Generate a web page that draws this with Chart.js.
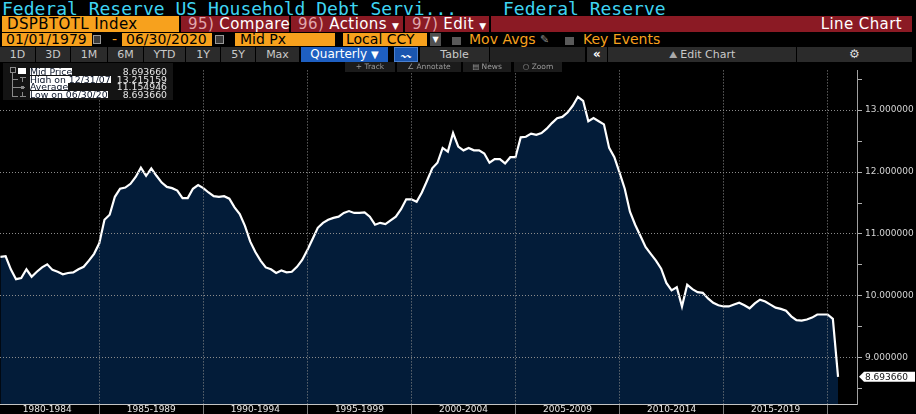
<!DOCTYPE html>
<html>
<head>
<meta charset="utf-8">
<script src="https://cdn.jsdelivr.net/npm/chart.js@4.4.1/dist/chart.umd.min.js"></script>
<style>
body{margin:0;background:#000;width:916px;height:414px;overflow:hidden;position:relative;font-family:'DejaVu Sans',sans-serif}
.a{position:absolute;white-space:pre;box-sizing:border-box}
.title{top:-1.5px;font-family:'DejaVu Sans Mono',monospace;font-size:18px;line-height:20px;color:#3fd4f2}
.r2{top:16px;height:16px;line-height:16px;font-size:15px;letter-spacing:.4px}
.org{background:#f7a11d;color:#000}
.red{background:#8b1a24;color:#fff}
.red i{font-style:normal;color:#e0a7ad}
.r3{top:33px;height:13px;line-height:13px;font-size:14px}
.ico{background:#3a3a3a;border:1px solid #9a9a9a}
.chk{top:37px;width:9px;height:8px;background:#5a5a5a}
.btn{top:47px;height:15px;line-height:15px;background:#2b2b2b;color:#c9c9c9;font-size:11px;text-align:center}
.tb{top:62px;height:10px;line-height:10px;background:#1b1b1b;color:#9a9a9a;font-size:7.5px;text-align:center;z-index:2}
.lg{font-size:9.3px;line-height:8px;height:8px;z-index:2}
.hl{display:inline-block;background:#fff;color:#0a1428;height:7px;line-height:8px}
.ln{position:absolute;background:#8a8a8a;z-index:2}
</style>
</head>
<body>
<!-- title row -->
<div class="a title" style="left:2px">Federal Reserve US Household Debt Servi...</div>
<div class="a title" style="left:503px">Federal Reserve</div>

<!-- security / actions row -->
<div class="a r2 org" style="left:2px;width:177px;padding-left:5px">DSPBTOTL Index</div>
<div class="a r2 red" style="left:181px;width:108px;padding-left:7px"><i>95)</i> Compare</div>
<div class="a r2 red" style="left:291px;width:112px;padding-left:7px"><i>96)</i> Actions <span style="font-size:9px">▼</span></div>
<div class="a r2 red" style="left:405px;width:84px;padding-left:7px"><i>97)</i> Edit <span style="font-size:9px">▼</span></div>
<div class="a r2 red" style="left:491px;width:421px;text-align:right;padding-right:10px">Line Chart</div>

<!-- date / settings row -->
<div class="a r3 org" style="left:2px;width:90px;padding-left:4px">01/01/1979</div>
<div class="a ico" style="left:93px;top:35px;width:8px;height:9px"></div>
<div class="a r3" style="left:112px;color:#f7a11d">-</div>
<div class="a r3 org" style="left:122px;width:90px;padding-left:4px">06/30/2020</div>
<div class="a ico" style="left:215px;top:35px;width:9px;height:9px"></div>
<div class="a r3 org" style="left:235px;width:100px;padding-left:5px">Mid Px</div>
<div class="a r3 org" style="left:343px;width:84px;padding-left:3px">Local CCY</div>
<div class="a r3" style="left:430px;width:11px;background:#505050;color:#fff;font-size:8px;text-align:center">▼</div>
<div class="a chk" style="left:452px"></div>
<div class="a r3" style="left:469px;color:#f7a11d">Mov Avgs</div>
<div class="a r3" style="left:540px;color:#8a8a8a;font-size:11px">✎</div>
<div class="a chk" style="left:565px"></div>
<div class="a r3" style="left:583px;color:#f7a11d">Key Events</div>

<!-- period buttons row -->
<div class="a btn" style="left:0;width:35px">1D</div>
<div class="a btn" style="left:36px;width:34px">3D</div>
<div class="a btn" style="left:71px;width:36px">1M</div>
<div class="a btn" style="left:108px;width:35px">6M</div>
<div class="a btn" style="left:144px;width:41px">YTD</div>
<div class="a btn" style="left:186px;width:34px">1Y</div>
<div class="a btn" style="left:221px;width:34px">5Y</div>
<div class="a btn" style="left:256px;width:43px">Max</div>
<div class="a btn" style="left:301px;width:87px;background:#1e5fc1;color:#fff;font-size:12px">Quarterly <span style="font-size:10px">▼</span></div>
<div class="a btn" style="left:394px;width:24px;background:#1a56b0;border:1px solid #4a80d0;color:#fff;font-size:10px">〰</div>
<div class="a btn" style="left:420px;width:69px">Table</div>
<div class="a btn" style="left:490px;width:95px;background:#222"></div>
<div class="a btn" style="left:587px;width:20px;color:#fff;font-weight:bold;font-size:12px">«</div>
<div class="a btn" style="left:608px;width:188px"><span style="color:#aaa;font-size:10px">⛰</span> Edit Chart</div>
<div class="a btn" style="left:797px;width:115px;color:#ddd;font-size:12px">⚙</div>

<canvas id="c" width="916" height="352" style="position:absolute;left:0;top:62px"></canvas>

<!-- chart toolbar -->
<div class="a tb" style="left:345px;width:50px">+ Track</div>
<div class="a tb" style="left:397px;width:64px">∠ Annotate</div>
<div class="a tb" style="left:463px;width:48px">▤ News</div>
<div class="a tb" style="left:514px;width:48px">○ Zoom</div>

<!-- legend -->
<div class="a" style="left:3px;top:63px;width:170px;height:37px;background:#141414;z-index:1"></div>
<div class="a" style="left:10px;top:67px;width:6px;height:6px;border:1px solid #8a8a8a;z-index:2"></div>
<div class="a" style="left:18px;top:68px;width:8px;height:6px;background:#fff;z-index:2"></div>
<div class="ln" style="left:12px;top:73px;width:1px;height:24px"></div>
<div class="ln" style="left:12px;top:79px;width:6px;height:1px"></div>
<div class="ln" style="left:20px;top:77px;width:6px;height:1px"></div>
<div class="ln" style="left:22px;top:77px;width:1px;height:5px"></div>
<div class="ln" style="left:12px;top:87px;width:13px;height:1px"></div>
<div class="ln" style="left:21px;top:86px;width:3px;height:3px"></div>
<div class="ln" style="left:12px;top:96px;width:6px;height:1px"></div>
<div class="ln" style="left:20px;top:96px;width:6px;height:1px"></div>
<div class="ln" style="left:22px;top:92px;width:1px;height:5px"></div>
<div class="a lg" style="left:30px;top:68px"><span class="hl">Mid Price</span></div>
<div class="a lg" style="left:30px;top:75.6px"><span class="hl">High on 12/31/07</span></div>
<div class="a lg" style="left:30px;top:83.2px"><span class="hl">Average</span></div>
<div class="a lg" style="left:30px;top:90.8px"><span class="hl">Low on 06/30/20</span></div>
<div class="a lg" style="left:100px;width:67px;text-align:right;top:68px;color:#e6e6e6">8.693660</div>
<div class="a lg" style="left:100px;width:67px;text-align:right;top:75.6px;color:#e6e6e6">13.215159</div>
<div class="a lg" style="left:100px;width:67px;text-align:right;top:83.2px;color:#e6e6e6">11.154946</div>
<div class="a lg" style="left:100px;width:67px;text-align:right;top:90.8px;color:#e6e6e6">8.693660</div>

<script>
// quarterly debt service ratio, 1980 Q1 .. 2020 Q2 (dated at quarter end)
const startYear = 1980;
const values = [
  10.63, 10.64, 10.43, 10.27, 10.29, 10.43, 10.31, 10.39,
  10.46, 10.51, 10.42, 10.39, 10.35, 10.37, 10.38, 10.43,
  10.47, 10.57, 10.68, 10.85, 11.23, 11.31, 11.60, 11.73,
  11.75, 11.81, 11.92, 12.07, 11.94, 12.06, 11.94, 11.83,
  11.76, 11.74, 11.70, 11.58, 11.58, 11.73, 11.79, 11.74,
  11.67, 11.61, 11.60, 11.61, 11.57, 11.43, 11.32, 11.13,
  10.88, 10.71, 10.57, 10.46, 10.43, 10.37, 10.41, 10.38,
  10.39, 10.47, 10.58, 10.74, 10.92, 11.10, 11.18, 11.23,
  11.26, 11.28, 11.34, 11.37, 11.34, 11.34, 11.35, 11.28,
  11.15, 11.18, 11.16, 11.22, 11.28, 11.40, 11.56, 11.56,
  11.52, 11.67, 11.86, 12.06, 12.15, 12.39, 12.33, 12.63,
  12.41, 12.35, 12.39, 12.35, 12.35, 12.30, 12.15, 12.21,
  12.21, 12.14, 12.24, 12.24, 12.56, 12.57, 12.62, 12.60,
  12.63, 12.70, 12.79, 12.87, 12.89, 12.96, 13.07, 13.215159,
  13.15, 12.82, 12.87, 12.82, 12.77, 12.39, 12.24, 11.99,
  11.73, 11.36, 11.15, 10.97, 10.79, 10.68, 10.57, 10.44,
  10.21, 10.09, 10.14, 9.83, 10.18, 10.11, 10.06, 10.05,
  9.96, 9.89, 9.85, 9.83, 9.83, 9.86, 9.89, 9.85,
  9.80, 9.88, 9.94, 9.91, 9.86, 9.81, 9.79, 9.76,
  9.67, 9.61, 9.60, 9.62, 9.65, 9.70, 9.70, 9.70,
  9.63, 8.69366
];
const periodLabels = ['1980-1984', '1985-1989', '1990-1994', '1995-1999',
                      '2000-2004', '2005-2009', '2010-2014', '2015-2019'];
const gridYears = [1985, 1990, 1995, 2000, 2005, 2010, 2015, 2020];
const yTicks = [9, 10, 11, 12, 13];
const yMinorTicks = [8.5, 9.5, 10.5, 11.5, 12.5, 13.5];

const points = values.map((v, i) => ({ x: startYear + 0.25 * (i + 1), y: v }));
const labelCenters = periodLabels.map(l => parseInt(l, 10) + 2.5);
const xTickValues = [...gridYears, ...labelCenters].sort((a, b) => a - b);
const yTickValues = [...yTicks, ...yMinorTicks].sort((a, b) => a - b);

const gridColor = '#8c8c8c';
const axisFont = { family: 'DejaVu Sans', size: 9 };

// white price tag for the last value on the right axis
const lastValueTag = {
    id: 'lastValueTag',
    afterDraw(chart) {
        const c = chart.ctx;
        const last = values[values.length - 1];
        const y = chart.scales.y.getPixelForValue(last);
        const x0 = chart.chartArea.right + 2;
        c.save();
        c.fillStyle = '#ffffff';
        c.beginPath();
        c.moveTo(x0, y);
        c.lineTo(x0 + 5, y - 5);
        c.lineTo(915, y - 5);
        c.lineTo(915, y + 5);
        c.lineTo(x0 + 5, y + 5);
        c.closePath();
        c.fill();
        c.fillStyle = '#111';
        c.font = '9px "DejaVu Sans"';
        c.textBaseline = 'middle';
        c.fillText(last.toFixed(6), x0 + 6, y + 0.5);
        c.restore();
    }
};

new Chart(document.getElementById('c'), {
    type: 'line',
    data: {
        datasets: [{
            data: points,
            borderColor: '#ffffff',
            borderWidth: 2.2,
            backgroundColor: '#031c39',
            fill: 'start',
            pointRadius: 0,
            tension: 0
        }]
    },
    options: {
        responsive: false,
        animation: false,
        layout: { padding: 0 },
        plugins: {
            legend: { display: false },
            tooltip: { enabled: false }
        },
        scales: {
            x: {
                type: 'linear',
                bounds: 'data',
                min: 1980.23,
                max: 2021.41,
                afterBuildTicks: s => { s.ticks = xTickValues.map(v => ({ value: v })); },
                afterFit: s => { s.height = 10; },
                ticks: {
                    autoSkip: false,
                    maxRotation: 0,
                    padding: -10,
                    color: '#e4e4e4',
                    font: axisFont,
                    callback: v => {
                        const k = labelCenters.indexOf(v);
                        return k >= 0 ? periodLabels[k] : '';
                    }
                },
                grid: {
                    z: 1,
                    lineWidth: 1,
                    color: c => (c.tick && gridYears.includes(c.tick.value)) ? gridColor : 'transparent',
                    tickColor: c => (c.tick && gridYears.includes(c.tick.value)) ? '#7a7a7a' : 'transparent',
                    tickLength: 10
                },
                border: { z: 1, color: '#c4c4c4', dash: [1, 2] }
            },
            y: {
                type: 'linear',
                position: 'right',
                bounds: 'data',
                min: 8.255,
                max: 13.641,
                afterBuildTicks: s => { s.ticks = yTickValues.map(v => ({ value: v })); },
                afterFit: s => { s.width = 59; },
                ticks: {
                    autoSkip: false,
                    padding: 3,
                    color: '#d4d4d4',
                    font: axisFont,
                    callback: v => yTicks.includes(v) ? v.toFixed(6) : ''
                },
                grid: {
                    z: 1,
                    lineWidth: 1,
                    color: c => (c.tick && yTicks.includes(c.tick.value)) ? gridColor : 'transparent',
                    tickColor: '#b0b0b0',
                    tickLength: 5
                },
                border: { z: 1, color: '#a0a0a0', dash: [1, 2] }
            }
        }
    },
    plugins: [lastValueTag]
});
</script>
</body>
</html>
